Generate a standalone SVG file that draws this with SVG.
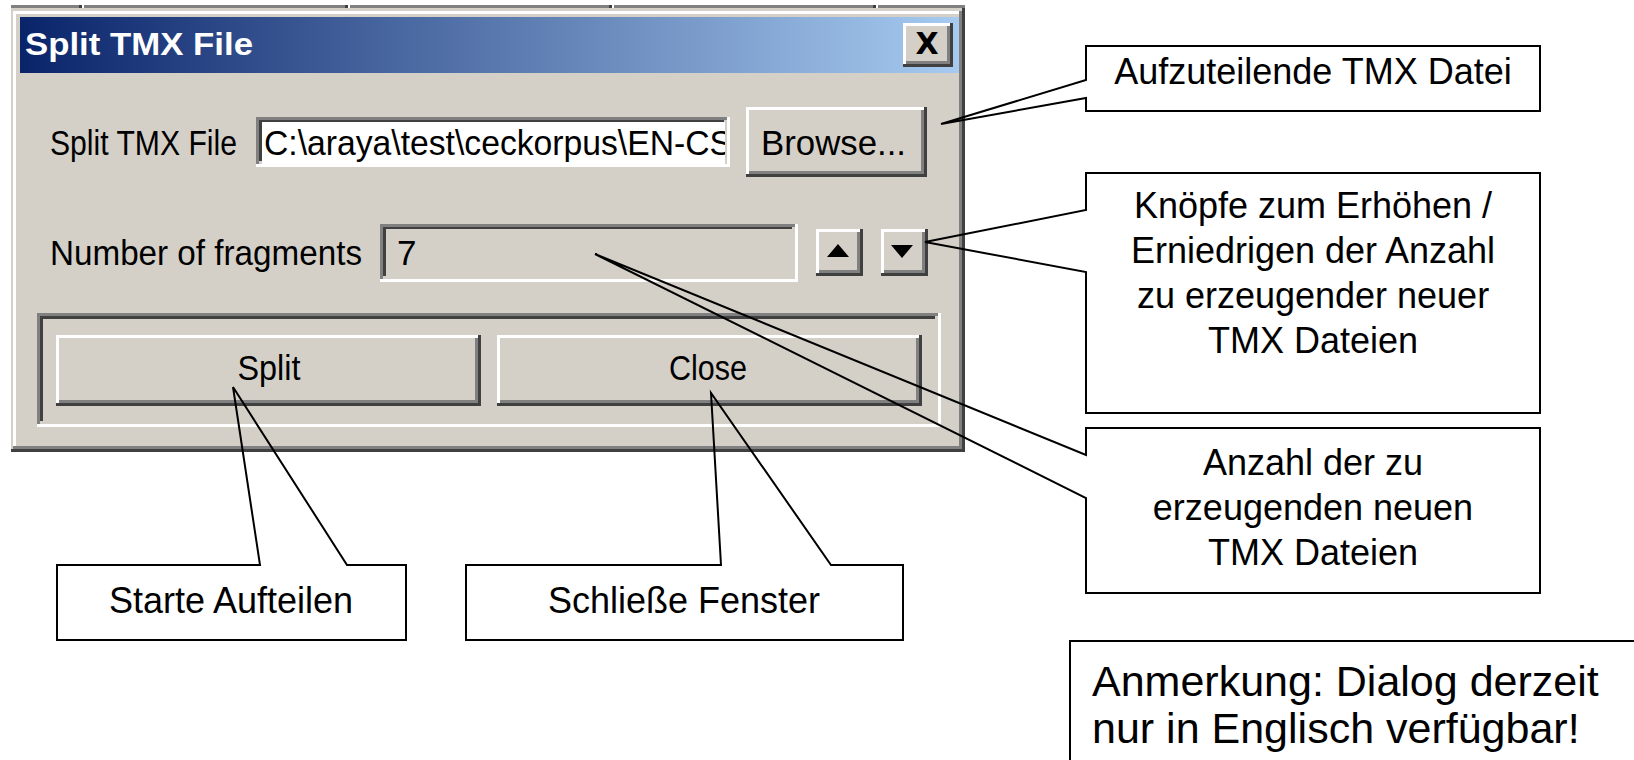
<svg xmlns="http://www.w3.org/2000/svg" width="1634" height="760" viewBox="0 0 1634 760">
  <style>
    .ui { font-family: "Liberation Sans", "DejaVu Sans", Arial, sans-serif; font-size: 35px; fill: #000; }
    .title { font-family: "Liberation Sans", "DejaVu Sans", Arial, sans-serif; font-size: 32px; font-weight: bold; fill: #fff; }
    .note { font-family: "Liberation Sans", Arial, Helvetica, sans-serif; font-size: 36px; fill: #000; text-anchor: middle; }
    .memo { font-family: "Liberation Sans", Arial, Helvetica, sans-serif; font-size: 43px; fill: #000; }
    .callout { fill: none; stroke: #000; stroke-width: 2; stroke-linejoin: miter; }
    .face { fill: #d4d0c8; }
    .hi { fill: #fff; }
    .sh { fill: #808080; }
    .dk { fill: #404040; }
  </style>
  <defs>
    <linearGradient id="caption" x1="0" y1="0" x2="1" y2="0">
      <stop offset="0" stop-color="#0a246a"/>
      <stop offset="1" stop-color="#a6caf0"/>
    </linearGradient>
    <clipPath id="fieldClip">
      <rect x="262" y="121" width="463" height="44"/>
    </clipPath>
  </defs>

  <rect width="1634" height="760" fill="#fff"/>

  <!-- header strip of the window behind the dialog -->
  <g id="header-strip">
    <rect x="11" y="5" width="954" height="3" class="sh"/>
    <rect x="79" y="5" width="3" height="3" class="dk"/><rect x="82" y="5" width="2" height="3" class="hi"/>
    <rect x="345" y="5" width="3" height="3" class="dk"/><rect x="348" y="5" width="2" height="3" class="hi"/>
    <rect x="609" y="5" width="3" height="3" class="dk"/><rect x="612" y="5" width="2" height="3" class="hi"/>
    <rect x="873" y="5" width="3" height="3" class="dk"/><rect x="876" y="5" width="2" height="3" class="hi"/>
  </g>

  <!-- dialog window with its caption bar -->
  <g id="dialog">
    <rect x="11" y="8" width="954" height="444" class="dk"/>
    <rect x="11" y="8" width="951" height="441" class="face"/>
    <rect x="13" y="11" width="949" height="438" class="sh"/>
    <rect x="13" y="11" width="946" height="435" class="hi"/>
    <rect x="16" y="14" width="943" height="432" class="face"/>
    <rect x="20" y="17" width="939" height="56" fill="url(#caption)"/>
    <text x="25" y="55" class="title" textLength="228" lengthAdjust="spacingAndGlyphs">Split TMX File</text>
  </g>

  <g id="close-x">
    <rect x="903" y="23" width="50" height="44" class="dk"/>
    <rect x="903" y="23" width="47" height="41" class="hi"/>
    <rect x="906" y="26" width="44" height="38" class="sh"/>
    <rect x="906" y="26" width="41" height="35" class="face"/>
    <text x="927" y="54" text-anchor="middle" font-family="DejaVu Sans, sans-serif" font-weight="bold" font-size="30" fill="#000">X</text>
  </g>

  <g id="label-file">
    <text x="50" y="155" class="ui" textLength="187" lengthAdjust="spacingAndGlyphs">Split TMX File</text>
  </g>

  <g id="field-file">
    <rect x="256" y="117" width="474" height="50" class="hi"/>
    <rect x="256" y="117" width="471" height="47" class="sh"/>
    <rect x="259" y="120" width="468" height="44" class="face"/>
    <rect x="259" y="120" width="465" height="41" class="dk"/>
    <rect x="262" y="122" width="463" height="42" fill="#fff"/>
    <text x="264" y="155" class="ui" clip-path="url(#fieldClip)" textLength="468" lengthAdjust="spacingAndGlyphs">C:\araya\test\ceckorpus\EN-CS</text>
  </g>

  <g id="btn-browse">
    <rect x="746" y="107" width="181" height="70" class="dk"/>
    <rect x="746" y="107" width="178" height="67" class="hi"/>
    <rect x="749" y="110" width="175" height="64" class="sh"/>
    <rect x="749" y="110" width="172" height="61" class="face"/>
    <text x="761" y="155" class="ui" textLength="145" lengthAdjust="spacingAndGlyphs">Browse...</text>
  </g>

  <g id="label-count">
    <text x="50" y="265" class="ui" textLength="312" lengthAdjust="spacingAndGlyphs">Number of fragments</text>
  </g>

  <g id="field-count">
    <rect x="380" y="224" width="418" height="58" class="hi"/>
    <rect x="380" y="224" width="415" height="55" class="sh"/>
    <rect x="383" y="227" width="412" height="52" class="face"/>
    <rect x="383" y="227" width="409" height="49" class="dk"/>
    <rect x="386" y="229" width="406" height="47" class="face"/>
    <text x="397" y="265" class="ui">7</text>
  </g>

  <g id="spin-up">
    <rect x="816" y="229" width="47" height="47" class="dk"/>
    <rect x="816" y="229" width="44" height="44" class="hi"/>
    <rect x="819" y="232" width="41" height="41" class="sh"/>
    <rect x="819" y="232" width="38" height="38" class="face"/>
    <polygon points="827,257 849,257 838,244" fill="#000"/>
  </g>

  <g id="spin-down">
    <rect x="881" y="229" width="47" height="47" class="dk"/>
    <rect x="881" y="229" width="44" height="44" class="hi"/>
    <rect x="884" y="232" width="41" height="41" class="sh"/>
    <rect x="884" y="232" width="38" height="38" class="face"/>
    <polygon points="891,245 913,245 902,258" fill="#000"/>
  </g>

  <g id="button-frame">
    <rect x="37" y="313" width="904" height="114" class="hi"/>
    <rect x="37" y="313" width="901" height="111" class="sh"/>
    <rect x="40" y="316" width="898" height="108" class="face"/>
    <rect x="40" y="316" width="895" height="105" class="dk"/>
    <rect x="43" y="319" width="892" height="102" class="face"/>
  </g>

  <g id="btn-split">
    <rect x="56" y="335" width="425" height="71" class="dk"/>
    <rect x="56" y="335" width="422" height="68" class="hi"/>
    <rect x="59" y="338" width="419" height="65" class="sh"/>
    <rect x="59" y="338" width="416" height="62" class="face"/>
    <text x="269" y="380" class="ui" text-anchor="middle" textLength="63" lengthAdjust="spacingAndGlyphs">Split</text>
  </g>

  <g id="btn-close">
    <rect x="497" y="335" width="425" height="71" class="dk"/>
    <rect x="497" y="335" width="422" height="68" class="hi"/>
    <rect x="500" y="338" width="419" height="65" class="sh"/>
    <rect x="500" y="338" width="416" height="62" class="face"/>
    <text x="708" y="380" class="ui" text-anchor="middle" textLength="78" lengthAdjust="spacingAndGlyphs">Close</text>
  </g>

  <!-- callout outlines with their pointers -->
  <g id="connectors">
    <path class="callout" d="M1086,46 H1540 V111 H1086 V98 L941,124 L1086,80 Z"/>
    <path class="callout" d="M1086,173 H1540 V413 H1086 V272 L925,242 L1086,210 Z"/>
    <path class="callout" d="M1086,428 H1540 V593 H1086 V498 L595,254 L1086,455 Z"/>
    <path class="callout" d="M57,565 H260 L233,387 L347,565 H406 V640 H57 Z"/>
    <path class="callout" d="M466,565 H721 L711,393 L831,565 H903 V640 H466 Z"/>
  </g>

  <g id="note-file">
    <text x="1313" y="84" class="note">Aufzuteilende TMX Datei</text>
  </g>

  <g id="note-spin">
    <text x="1313" y="218" class="note">Knöpfe zum Erhöhen /</text>
    <text x="1313" y="263" class="note">Erniedrigen der Anzahl</text>
    <text x="1313" y="308" class="note">zu erzeugender neuer</text>
    <text x="1313" y="353" class="note">TMX Dateien</text>
  </g>

  <g id="note-count">
    <text x="1313" y="475" class="note">Anzahl der zu</text>
    <text x="1313" y="520" class="note">erzeugenden neuen</text>
    <text x="1313" y="565" class="note">TMX Dateien</text>
  </g>

  <g id="note-split">
    <text x="231" y="613" class="note">Starte Aufteilen</text>
  </g>

  <g id="note-close">
    <text x="684" y="613" class="note">Schließe Fenster</text>
  </g>

  <g id="note-language">
    <rect x="1070" y="641" width="600" height="200" class="callout"/>
    <text x="1092" y="696" class="memo">Anmerkung: Dialog derzeit</text>
    <text x="1092" y="743" class="memo">nur in Englisch verfügbar!</text>
  </g>
</svg>
